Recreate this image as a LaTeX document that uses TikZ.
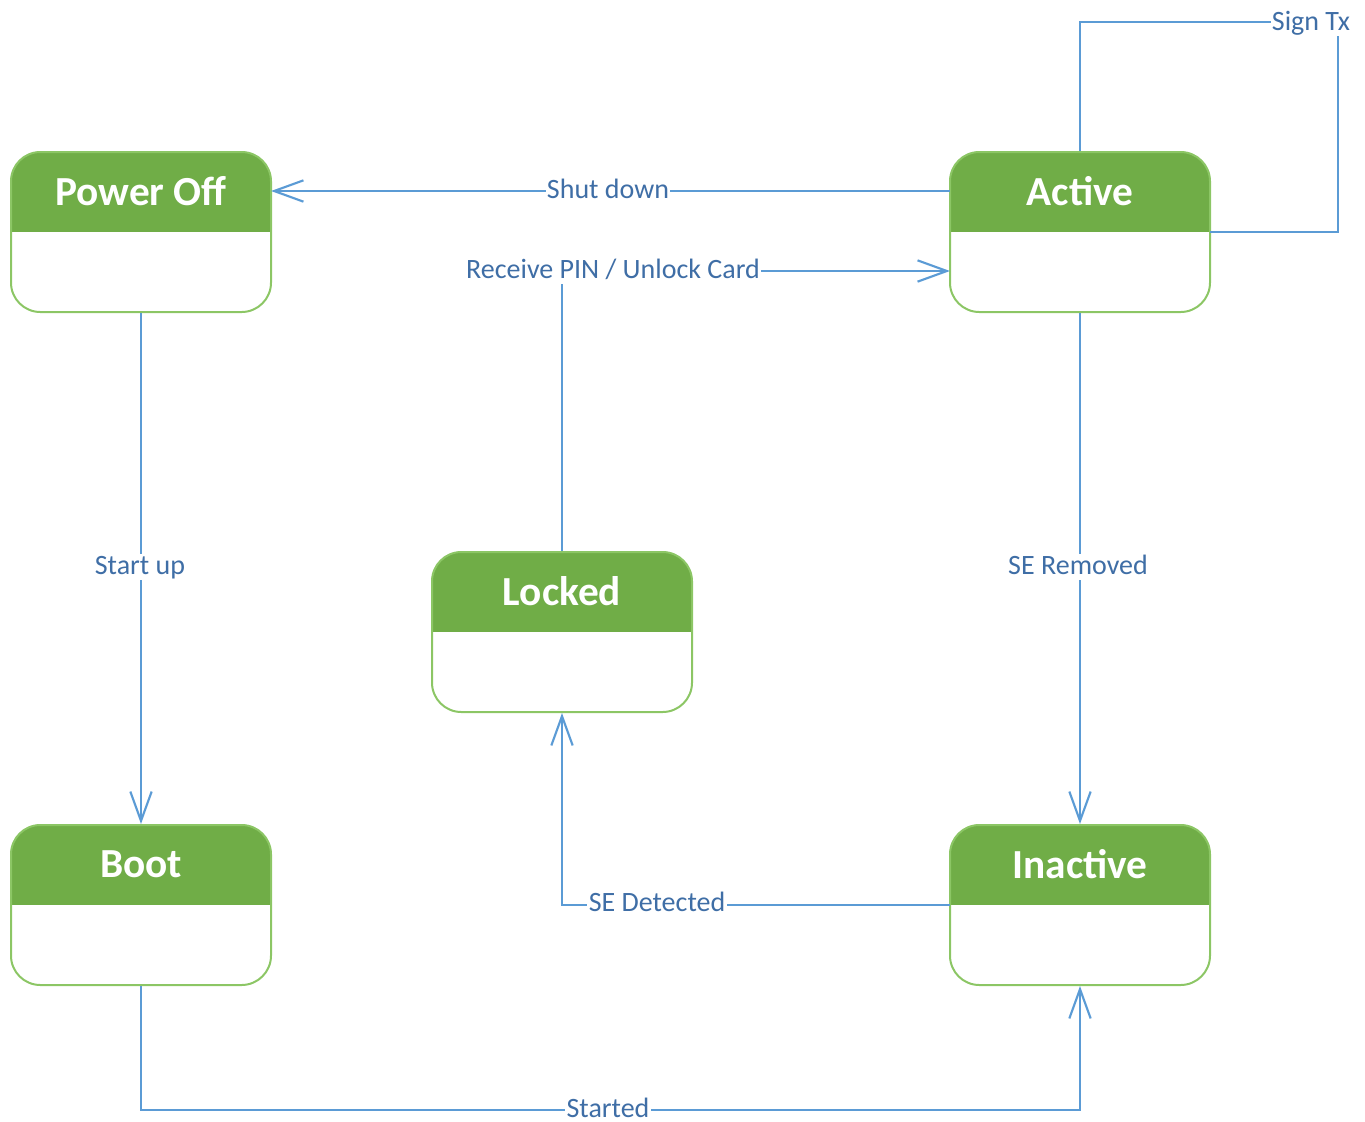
\documentclass[tikz,border=0pt]{standalone}
\usepackage{fontspec}
\setmainfont{Carlito}
\usetikzlibrary{arrows.meta}
\definecolor{hdr}{HTML}{70AD47}
\definecolor{brd}{HTML}{8CC665}
\definecolor{ln}{HTML}{5B9BD5}
\definecolor{lbl}{HTML}{3F6EA6}
\begin{document}
\begin{tikzpicture}[x=0.75pt,y=-0.75pt,
  state/.style={draw=brd,line width=1.5pt,rounded corners=22pt,minimum width=195pt,minimum height=120pt,inner sep=0pt,
    path picture={\fill[hdr,sharp corners] (path picture bounding box.north west) rectangle (path picture bounding box.east);}},
  title/.style={text=white,font=\bfseries\fontsize{31}{36}\selectfont,inner sep=0pt},
  conn/.style={draw=ln,line width=1.6pt,line join=miter},
  arr/.style={conn,-{Straight Barb[length=22pt,width=16pt,line width=1.6pt]}},
  lab/.style={fill=white,text=lbl,font=\fontsize{21}{24}\selectfont,inner sep=1pt,text height=14.5pt,text depth=3.5pt}]
\useasboundingbox (0,0) rectangle (1365,1122);
% states
\node[state] (po) at (141,232) {};
\node[title] (pot) at (141,191) {Power Off};
\node[state] (ac) at (1080,232) {};
\node[title] (act) at (1080,191) {Active};
\node[state] (lo) at (562,632) {};
\node[title] (lot) at (562,591) {Locked};
\node[state] (bo) at (141,905) {};
\node[title] (bot) at (141,864) {Boot};
\node[state] (in) at (1080,905) {};
\node[title] (int) at (1080,864) {Inactive};
% helper coordinates
\coordinate (acw1) at (950,191);
\coordinate (acw2) at (950,271);
\coordinate (poe) at (271,191);
\coordinate (inw) at (950,905);
\coordinate (c1) at (1080,22);
\coordinate (c2) at (1338,22);
\coordinate (c3) at (1338,232);
\coordinate (ace) at (1210,232);
\coordinate (c4) at (141,1110);
\coordinate (c5) at (1080,1110);
% connectors
\draw[arr] (acw1) -- (poe);
\node[lab] (l1) at (608,191) {Shut down};
\draw[arr] (lo.north) |- (acw2);
\node[lab] (l2) at (613,271) {Receive PIN / Unlock Card};
\draw[arr] (ac.south) -- (in.north);
\node[lab] (l3) at (1078,567) {SE Removed};
\draw[arr] (po.south) -- (bo.north);
\node[lab] (l4) at (140,567) {Start up};
\draw[arr] (inw) -| (lo.south);
\node[lab] (l5) at (657,904) {SE Detected};
\draw[arr] (bo.south) -- (c4) -- (c5) -- (in.south);
\node[lab] (l6) at (608,1110) {Started};
\draw[conn] (ac.north) -- (c1) -- (c2) -- (c3) -- (ace);
\node[lab] (l7) at (1311,23) {Sign Tx};
\end{tikzpicture}
\end{document}
